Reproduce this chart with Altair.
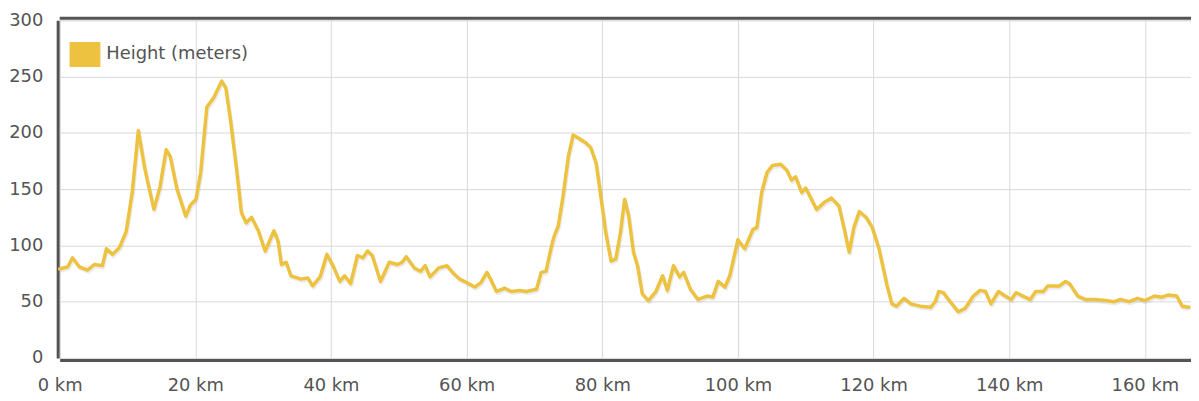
import altair as alt
import pandas as pd

# ---- data ----
km = [
    0.0, 1.2, 1.9, 2.9, 4.1, 5.1, 6.3, 6.9, 7.8, 8.8, 9.8, 10.7, 11.6, 12.5, 13.0, 13.9,
    14.8, 15.7, 16.3, 17.3, 18.6, 19.3, 20.1, 20.8, 21.7, 22.7, 23.1, 23.9, 24.5, 25.2,
    26.1, 26.8, 27.5, 28.3, 29.3, 30.3, 31.6, 32.2, 32.7, 33.4, 34.1, 35.6, 36.6, 37.3,
    38.4, 39.4, 40.3, 41.3, 42.0, 42.9, 43.9, 44.7, 45.4, 46.1, 47.3, 48.6, 49.8, 50.5,
    51.1, 52.3, 53.2, 53.9, 54.6, 55.9, 57.1, 58.1, 59.0, 60.0, 61.2, 62.1, 63.0, 63.7,
    64.4, 65.6, 66.6, 67.8, 68.8, 70.3, 71.0, 71.7, 72.5, 72.9, 73.5, 74.2, 75.0, 75.7,
    76.6, 77.6, 78.3, 79.1, 79.8, 80.5, 81.3, 82.0, 82.7, 83.3, 83.9, 84.6, 85.2, 85.9,
    86.8, 87.9, 88.9, 89.6, 90.5, 91.4, 92.0, 93.0, 94.1, 95.5, 96.3, 97.1, 98.1, 98.8,
    100.0, 101.0, 102.2, 102.8, 103.5, 104.3, 105.1, 106.3, 107.2, 107.9, 108.5, 109.4,
    110.0, 111.6, 112.7, 113.8, 114.9, 115.7, 116.4, 117.1, 117.9, 118.9, 119.8, 120.8,
    122.0, 122.7, 123.4, 124.5, 125.5, 126.9, 128.4, 129.1, 129.6, 130.3, 131.3, 132.5,
    133.5, 134.7, 135.7, 136.5, 137.3, 138.4, 139.4, 140.3, 141.0, 142.0, 143.1, 143.9,
    145.0, 145.7, 146.7, 147.4, 148.3, 148.9, 150.1, 151.2, 152.7, 154.2, 155.5, 156.4,
    157.7, 158.9, 160.0, 161.4, 162.5, 163.5, 164.7, 165.5, 166.5,
]
height_m = [
    79, 81, 89, 81, 78, 83, 82, 97, 92, 98, 112, 147, 202, 170, 156, 132,
    152, 185, 179, 150, 126, 136, 141, 165, 223, 231, 236, 246, 240, 211,
    167, 129, 120, 125, 113, 95, 113, 104, 83, 85, 73, 70, 71, 64,
    72, 92, 82, 68, 73, 66, 91, 89, 95, 91, 68, 85, 83, 85,
    90, 80, 77, 82, 72, 80, 82, 75, 70, 67, 63, 67, 76, 68,
    59, 62, 59, 60, 59, 61, 76, 77, 99, 108, 117, 143, 179, 198,
    195, 191, 187, 173, 143, 112, 86, 88, 112, 141, 126, 94, 82, 57,
    51, 59, 73, 60, 82, 72, 76, 61, 52, 55, 54, 68, 63, 73,
    105, 97, 114, 116, 147, 165, 171, 172, 167, 158, 161, 147,
    151, 132, 138, 142, 135, 114, 94, 116, 130, 125, 116, 97,
    64, 48, 46, 53, 48, 46, 45, 50, 59, 58, 50, 41,
    44, 55, 60, 59, 48, 59, 55, 52, 58, 55, 52, 59,
    59, 64, 64, 64, 68, 66, 55, 52, 52, 51, 50, 52,
    50, 53, 51, 55, 54, 56, 55, 46, 45,
]
series_name = "Height (meters)"
x_ticks = [0, 20, 40, 60, 80, 100, 120, 140, 160]
y_ticks = [0, 50, 100, 150, 200, 250, 300]
x_max = 166.8
y_max = 300

df = pd.DataFrame({"km": km, "height": height_m, "series": series_name})
top_df = pd.DataFrame({"top": [y_max]})

FONT = "DejaVu Sans"
TEXT = "#545454"
GRID = "#d9d9d9"
LINE = "#edc240"

x_scale = alt.Scale(domain=[0, x_max], nice=False, zero=False)
y_scale = alt.Scale(domain=[0, y_max], nice=False)

x_axis = alt.Axis(
    values=x_ticks, labelExpr="datum.value + ' km'", title=None,
    grid=True, gridColor=GRID, gridWidth=1,
    domainColor=TEXT, domainWidth=3, offset=2, ticks=False,
    labelPadding=17, labelFont=FONT, labelFontSize=18, labelColor=TEXT,
    labelFlush=False, labelOverlap=False,
)
y_axis = alt.Axis(
    values=y_ticks, title=None,
    grid=True, gridColor=GRID, gridWidth=1,
    domainColor=TEXT, domainWidth=3, offset=2, ticks=False,
    labelPadding=15, labelFont=FONT, labelFontSize=18, labelColor=TEXT,
    labelFlush=False, labelOverlap=False,
)

shadow = alt.Chart(df).mark_line(
    color="black", opacity=0.08, strokeWidth=3.5, xOffset=1, yOffset=2,
    strokeJoin="round",
).encode(
    x=alt.X("km:Q", scale=x_scale, axis=x_axis),
    y=alt.Y("height:Q", scale=y_scale, axis=y_axis),
)

line = alt.Chart(df).mark_line(
    strokeWidth=3.5, strokeJoin="round", strokeCap="round",
).encode(
    x=alt.X("km:Q", scale=x_scale, axis=x_axis),
    y=alt.Y("height:Q", scale=y_scale, axis=y_axis),
    color=alt.Color(
        "series:N",
        scale=alt.Scale(domain=[series_name], range=[LINE]),
        legend=alt.Legend(
            title=None, orient="none", legendX=10, legendY=19, padding=0,
            symbolType="M-1,-0.8L1,-0.8L1,0.8L-1,0.8Z", symbolSize=841,
            symbolFillColor=LINE, symbolStrokeColor="#e3d8b5", symbolStrokeWidth=2,
            labelFont=FONT, labelFontSize=18, labelColor=TEXT, labelOffset=6,
        ),
    ),
)

top_border = alt.Chart(top_df).mark_rule(
    color=TEXT, strokeWidth=3, yOffset=-2,
).encode(
    y=alt.Y("top:Q", scale=y_scale, axis=y_axis),
)

chart = alt.layer(shadow, line, top_border).properties(
    width=1139, height=340,
    autosize=alt.AutoSizeParams(type="none"),
    padding={"left": 52, "top": 11, "right": 0, "bottom": 41},
).configure_view(stroke=None).configure(background="white")

chart.save("out.html", embed_options={"renderer": "svg", "actions": False})
